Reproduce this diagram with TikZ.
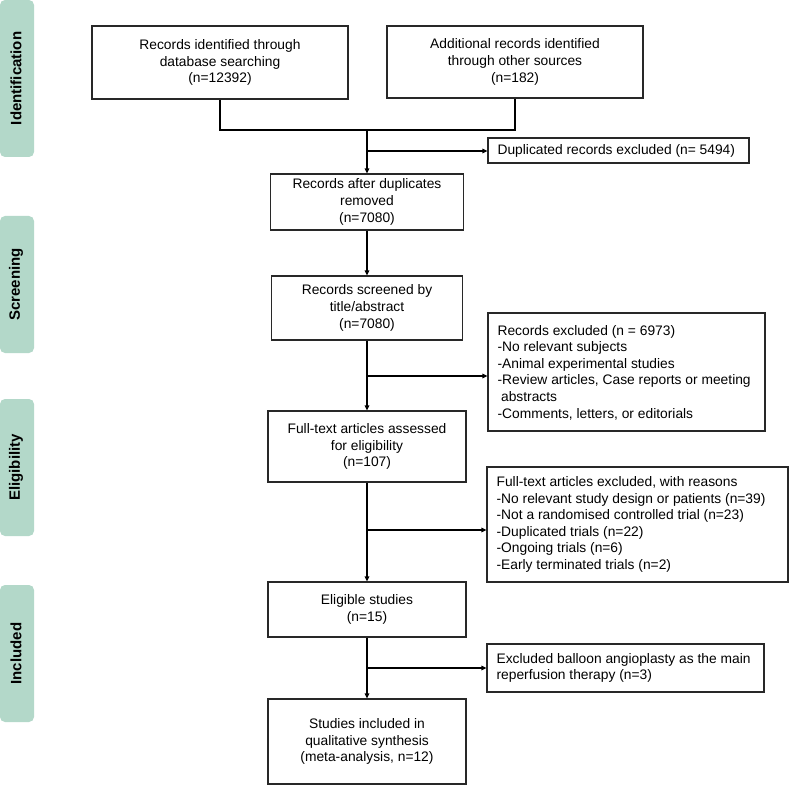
\documentclass[tikz,border=0pt]{standalone}
\usepackage{fontspec}
\setmainfont{Liberation Sans}
\usetikzlibrary{arrows.meta}
\definecolor{barcol}{RGB}{179,216,201}
\definecolor{linecol}{RGB}{40,40,40}
\tikzset{
  box/.style={draw=linecol, line width=1.2pt, rectangle, inner sep=0pt, align=center,
              font=\fontsize{13.8}{16.6}\selectfont},
  extext/.style={anchor=west, align=left, inner sep=0pt, font=\fontsize{13.8}{16.6}\selectfont},
  bar/.style={fill=barcol, rounded corners=5pt, draw=none, minimum width=34pt, inner sep=0pt},
  barlabel/.style={rotate=90, font=\fontsize{15}{17}\selectfont\bfseries},
  conn/.style={draw=black, line width=1.5pt},
  arr/.style={conn, -{Triangle[length=5pt,width=4.5pt]}}
}
\begin{document}
\begin{tikzpicture}[x=1pt,y=-1pt]
\useasboundingbox (0,0) rectangle (789,799);
% side bars
\node[bar, minimum height=157pt] (sb1) at (17,78.5) {};
\node[barlabel] (sl1) at (16,78.5) {Identification};
\node[bar, minimum height=137pt] (sb2) at (17,284.5) {};
\node[barlabel] (sl2) at (16,284.5) {Screening};
\node[bar, minimum height=137pt] (sb3) at (17,467.5) {};
\node[barlabel] (sl3) at (16,467.5) {Eligibility};
\node[bar, minimum height=137pt] (sb4) at (17,653.5) {};
\node[barlabel] (sl4) at (16,653.5) {Included};
% main boxes
\node[box, minimum width=256pt, minimum height=73pt] (b1) at (220,62.5)
  {Records identified through\\database searching\\(n=12392)};
\node[box, minimum width=256pt, minimum height=72pt] (b2) at (515,62)
  {Additional records identified\\through other sources\\(n=182)};
\node[box, minimum width=193pt, minimum height=56pt] (b3) at (367,202)
  {Records after duplicates\\removed\\(n=7080)};
\node[box, minimum width=191pt, minimum height=64pt] (b4) at (367,308)
  {Records screened by\\title/abstract\\(n=7080)};
\node[box, minimum width=198pt, minimum height=71pt] (b5) at (367,446.5)
  {Full-text articles assessed\\for eligibility\\(n=107)};
\node[box, minimum width=198pt, minimum height=55pt] (b6) at (367,609.5)
  {Eligible studies\\(n=15)};
\node[box, minimum width=198pt, minimum height=85pt] (b7) at (367,741.5)
  {Studies included in\\qualitative synthesis\\(meta-analysis, n=12)};
% exclusion boxes
\node[box, minimum width=261pt, minimum height=25pt] (dup) at (618.5,150.5) {};
\node[extext] (dupt) at ([xshift=10pt]dup.west) {Duplicated records excluded (n= 5494)};
\node[box, minimum width=277pt, minimum height=118pt] (ex1) at (626.5,372) {};
\node[extext] (ex1t) at ([xshift=10pt,yshift=-0.5pt]ex1.west)
  {Records excluded (n = 6973)\\-No relevant subjects\\-Animal experimental studies\\-Review articles, Case reports or meeting\\\hspace*{3.5pt}abstracts\\-Comments, letters, or editorials};
\node[box, minimum width=301pt, minimum height=115pt] (ex2) at (637.5,524.5) {};
\node[extext] (ex2t) at ([xshift=10pt]ex2.west)
  {Full-text articles excluded, with reasons\\-No relevant study design or patients (n=39)\\-Not a randomised controlled trial (n=23)\\-Duplicated trials (n=22)\\-Ongoing trials (n=6)\\-Early terminated trials (n=2)};
\node[box, minimum width=277pt, minimum height=48pt] (ex3) at (625.5,668) {};
\node[extext] (ex3t) at ([xshift=10pt]ex3.west)
  {Excluded balloon angioplasty as the main\\reperfusion therapy (n=3)};
% junctions
\coordinate (j0) at (367,130);
\coordinate (j1) at (367,151);
\coordinate (j2) at (367,376);
\coordinate (j3) at (367,530);
\coordinate (j4) at (367,668);
% connectors
\draw[conn] (b1.south) |- (j0) -| (b2.south);
\draw[arr] (j0) -- (b3.north);
\draw[arr] (j1) -- (j1 -| dup.west);
\draw[arr] (b3.south) -- (b4.north);
\draw[arr] (b4.south) -- (b5.north);
\draw[arr] (j2) -- (j2 -| ex1.west);
\draw[arr] (b5.south) -- (b6.north);
\draw[arr] (j3) -- (j3 -| ex2.west);
\draw[arr] (b6.south) -- (b7.north);
\draw[arr] (j4) -- (j4 -| ex3.west);
\end{tikzpicture}
\end{document}
